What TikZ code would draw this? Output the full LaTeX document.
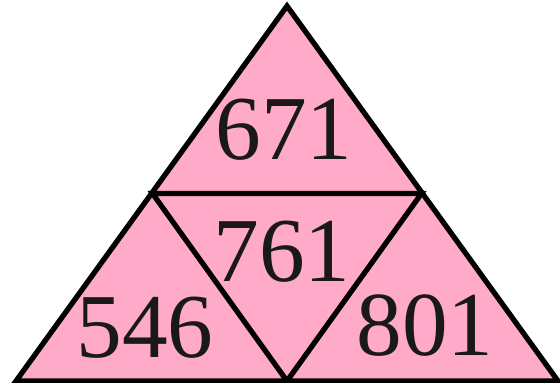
\documentclass[tikz,border=0pt]{standalone}
\usepackage{fontspec}
\setmainfont{Liberation Serif}
\usepackage{tikz}
\usetikzlibrary{positioning}

\definecolor{tripink}{RGB}{255,170,200}

\begin{document}
\begin{tikzpicture}[
    edge/.style={draw=black, line width=3pt, line join=miter},
    num/.style={inner sep=0pt, font=\fontsize{52}{52}\selectfont, text=black!90}
]
    \useasboundingbox (0,0) rectangle (11.2,7.64);
    % corners and edge midpoints
    \coordinate (top) at (5.74,7.52);
    \coordinate (bl) at (0.32,0.02);
    \coordinate (br) at (11.16,0.02);
    \coordinate (ml) at (3.05,3.77);
    \coordinate (mr) at (8.43,3.77);
    \coordinate (mb) at (5.74,0.02);
    \begin{scope}
        \clip (0,0) rectangle (11.2,7.64);
        \filldraw[edge, fill=tripink] (top) -- (bl) -- (br) -- cycle;
        \draw[edge] (ml) -- (mr) -- (mb) -- cycle;
    \end{scope}
    \node[num] (n671) at (5.68,5.04) {671};
    \node[num] (n761) at (5.64,2.60) {761};
    \node[num] (n546) at (2.90,1.08) {546};
    \node[num] (n801) at (8.50,1.12) {801};
\end{tikzpicture}
\end{document}
